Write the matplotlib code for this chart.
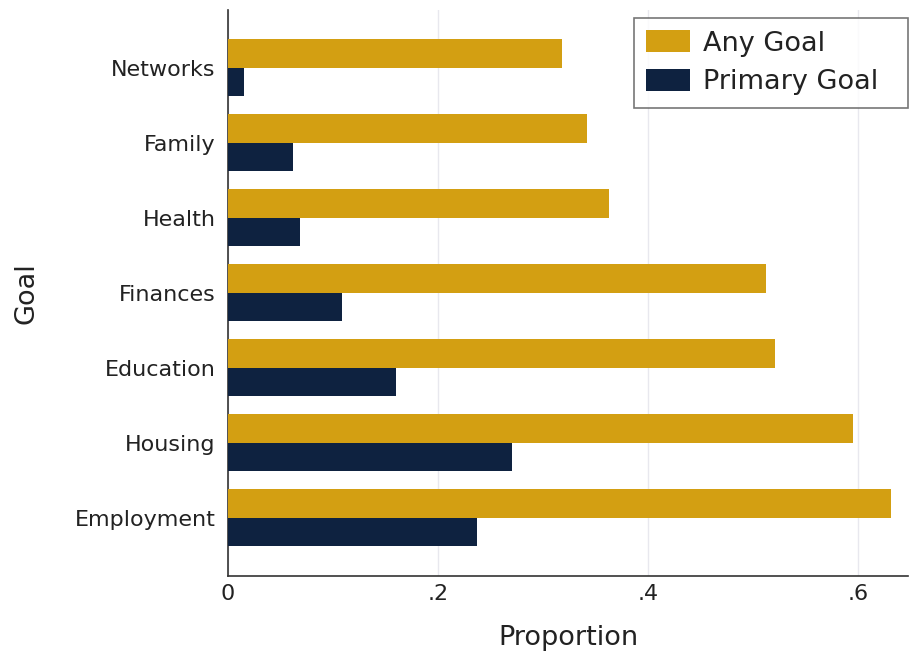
import numpy as np
import matplotlib
matplotlib.use("Agg")
import matplotlib.pyplot as plt

goals = ["Employment", "Housing", "Education", "Finances", "Health", "Family", "Networks"]
any_goal = [0.632, 0.595, 0.521, 0.513, 0.363, 0.342, 0.318]
primary_goal = [0.237, 0.271, 0.160, 0.109, 0.069, 0.062, 0.015]

gold = "#D39F12"
navy = "#0E2240"

fig = plt.figure(figsize=(9.1, 6.59), dpi=100)
ax = fig.add_axes([0.2505, 0.126, 0.7475, 0.859])

y = np.arange(len(goals))
h = 0.38
ax.barh(y + h / 2, any_goal, height=h, color=gold, label="Any Goal", zorder=3)
ax.barh(y - h / 2, primary_goal, height=h, color=navy, label="Primary Goal", zorder=3)

ax.set_ylim(-0.773, len(goals) - 1 + 0.773)
ax.set_xlim(0, 0.648)
ax.set_xticks([0, 0.2, 0.4, 0.6])
ax.set_xticklabels(["0", ".2", ".4", ".6"])
ax.set_yticks(y)
ax.set_yticklabels(goals)
ax.tick_params(axis="both", labelsize=16, colors="#222222", length=0)
ax.tick_params(axis="y", pad=9)
ax.tick_params(axis="x", pad=6)

ax.grid(axis="x", color="#e8e8ee", linewidth=1, zorder=0)
for side in ["top", "right"]:
    ax.spines[side].set_visible(False)
for side in ["left", "bottom"]:
    ax.spines[side].set_color("#333333")
    ax.spines[side].set_linewidth(1.2)

ax.set_xlabel("Proportion", fontsize=19.5, color="#222222", labelpad=15)
ax.set_ylabel("Goal", fontsize=19.5, color="#222222", labelpad=25)

leg = ax.legend(loc="upper right", bbox_to_anchor=(0.597, 0.0, 0.403, 0.986),
                mode="expand", borderaxespad=0,
                fontsize=19.5, frameon=True, fancybox=False, edgecolor="#555555",
                handlelength=1.6, handleheight=0.9, borderpad=0.45,
                labelspacing=0.45, handletextpad=0.5)
leg.get_frame().set_linewidth(1.2)
for t in leg.get_texts():
    t.set_color("#222222")

fig.savefig("out.png", dpi=100, facecolor="white")
